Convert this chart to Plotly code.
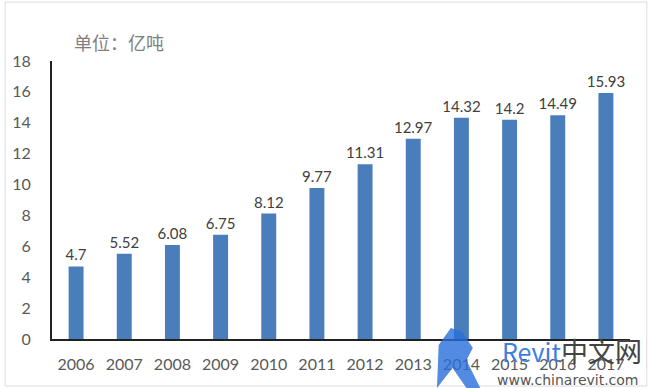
import plotly.graph_objects as go

years = ["2006", "2007", "2008", "2009", "2010", "2011", "2012", "2013", "2014", "2015", "2016", "2017"]
values = [4.7, 5.52, 6.08, 6.75, 8.12, 9.77, 11.31, 12.97, 14.32, 14.2, 14.49, 15.93]
labels = ["4.7", "5.52", "6.08", "6.75", "8.12", "9.77", "11.31", "12.97", "14.32", "14.2", "14.49", "15.93"]
y_ticks = [0, 2, 4, 6, 8, 10, 12, 14, 16, 18]

fig = go.Figure(go.Bar(
    x=years, y=values, text=labels, textposition="outside", constraintext="none",
    textfont=dict(family="Lato, Liberation Sans, sans-serif", size=15, color="#404040"),
    marker=dict(color="#4a7ebb", line=dict(width=0)),
    cliponaxis=False,
))

fig.update_layout(
    width=650, height=388,
    margin=dict(l=50, r=20, t=61, b=49),
    paper_bgcolor="white", plot_bgcolor="white",
    bargap=0.69, showlegend=False,
    xaxis=dict(showline=True, linecolor="#222", linewidth=2, ticks="", ticklabelstandoff=10,
               tickfont=dict(family="Lato, Liberation Sans, sans-serif", size=16, color="#595959"),
               showgrid=False),
    yaxis=dict(range=[0, 18], tickvals=y_ticks, showline=True, linecolor="#222", linewidth=2,
               ticks="", showgrid=False, zeroline=False, ticklabelstandoff=16,
               tickfont=dict(family="Lato, Liberation Sans, sans-serif", size=16, color="#595959")),
    annotations=[
        dict(text="单位：亿吨", xref="paper", yref="paper", x=0.034, y=1.068, xanchor="left",
             yanchor="middle", showarrow=False,
             font=dict(family="Noto Sans CJK SC", size=18, color="#7f7f7f")),
        dict(text="<span style='color:#3c7fe0;font-size:25px'>Revit</span>中文网",
             xref="paper", yref="paper",
             x=1.024, y=-0.04, xanchor="right", yanchor="middle", showarrow=False,
             font=dict(family="Noto Sans CJK SC, DejaVu Sans", size=27, color="#444")),
        dict(text="www.chinarevit.com", xref="paper", yref="paper",
             x=1.019, y=-0.147, xanchor="right", yanchor="middle", showarrow=False,
             font=dict(family="DejaVu Sans", size=14, color="#555")),
    ],
    shapes=[
        dict(type="rect", xref="paper", yref="paper", x0=-0.081, x1=1.029, y0=-0.169, y1=1.212,
             line=dict(color="#dcdcdc", width=1)),
        dict(type="path", xref="paper", yref="paper",
             path="M 0.690 0.040 L 0.710 0.025 L 0.728 -0.032 L 0.717 -0.076 L 0.741 -0.176 "
                  "L 0.717 -0.176 L 0.693 -0.104 L 0.666 -0.176 L 0.669 -0.022 Z",
             fillcolor="rgba(40,110,220,0.8)", line=dict(width=0)),
    ],
)

fig.write_html("out.html", config={"displayModeBar": False},
               post_script="document.body.style.margin='0';")
